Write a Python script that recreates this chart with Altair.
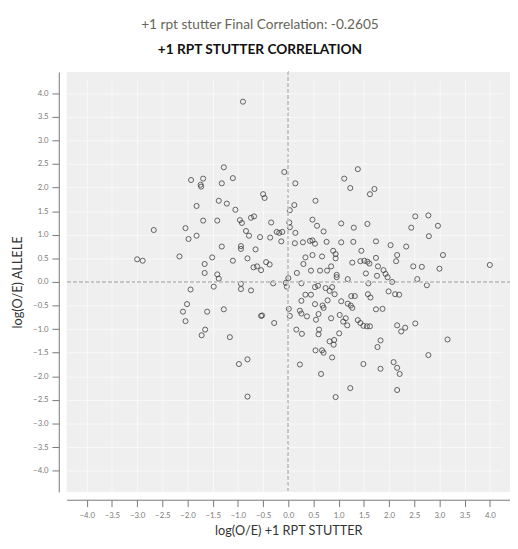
import altair as alt
import pandas as pd

# log(O/E) +1 rpt stutter (x) and log(O/E) allele (y)
x_vals = [
    -0.90, -1.28, -1.93, -1.69, -1.74, -1.73, -1.32, -1.10, -0.08, -0.50,
    -0.47, -1.82, -1.38, -1.22, -1.05, 0.03, -1.69, -1.41, -0.96, -0.92,
    -0.74, -0.68, -0.34, -2.67, -2.04, -1.98, -1.82, -0.84, -0.78, -0.56,
    -0.36, -0.23, -0.18, -0.12, -0.14, 0.02, 0.03, -1.32, -0.94, -0.94,
    -0.65, -3.00, -2.89, -2.16, -1.51, -1.66, -1.10, -0.81, -0.69, -0.62,
    -0.54, -0.44, -0.37, -1.66, -1.41, -1.38, -1.48, -1.94, -0.94, -0.94,
    -0.74, -0.30, -0.05, -0.03, 0.00, -2.01, -2.09, -2.04, -1.61, -1.28,
    -0.54, -0.52, -0.28, 0.01, 0.03, -1.65, -1.72, -1.16, -0.81, -0.98,
    -0.81,
    0.14, 1.38, 1.11, 1.23, 1.71, 1.62, 0.54, 0.12, 0.14, 0.48,
    0.57, 0.70, 1.05, 1.30, 1.57, 2.52, 2.78, 2.44, 2.97, 2.79,
    0.13, 0.29, 0.43, 0.48, 0.53, 0.76, 1.05, 1.29, 1.74, 2.03,
    2.34, 3.07, 4.00, 0.34, 0.30, 0.48, 0.67, 0.89, 0.94, 0.94,
    1.45, 1.27, 1.43, 1.51, 1.57, 1.61, 1.74, 2.16, 2.14, 1.78,
    2.48, 2.65, 3.00, 0.17, 0.45, 0.63, 0.77, 0.85, 0.96, 0.96,
    1.18, 1.54, 1.76, 1.89, 1.93, 1.97, 2.06, 1.59, 2.56, 2.75,
    0.26, 0.53, 0.59, 0.74, 0.87, 0.34, 0.45, 0.82, 0.92, 1.25,
    1.32, 1.58, 1.63, 1.99, 2.12, 2.20, 0.26, 0.53, 0.68, 0.70,
    0.78, 1.05, 1.18, 1.24, 1.27, 1.74, 1.87, 0.23, 0.26, 0.37,
    0.55, 0.60, 0.85, 1.02, 1.09, 1.14, 1.17, 1.38, 1.43, 1.49,
    1.56, 1.62, 2.16, 2.24, 2.32, 2.52, 3.16, 0.16, 0.27, 0.61,
    0.60, 1.01, 0.82, 0.91, 0.90, 0.67, 0.70, 0.54, 0.87, 1.83,
    1.77, 0.23, 0.65, 1.49, 1.83, 2.09, 2.16, 2.21, 2.78, 1.23,
    0.94, 2.16,
]
y_vals = [
    3.82, 2.43, 2.16, 2.19, 2.06, 2.02, 2.09, 2.20, 2.33, 1.86,
    1.78, 1.61, 1.72, 1.66, 1.53, 1.52, 1.30, 1.30, 1.31, 1.25,
    1.36, 1.39, 1.26, 1.10, 1.14, 0.91, 0.98, 1.08, 0.98, 0.95,
    0.94, 1.06, 1.04, 1.06, 0.86, 1.26, 1.16, 0.75, 0.76, 0.70,
    0.69, 0.48, 0.45, 0.54, 0.52, 0.38, 0.45, 0.50, 0.31, 0.33,
    0.25, 0.42, 0.37, 0.19, 0.16, 0.07, -0.10, -0.16, -0.04, -0.15,
    -0.18, -0.03, -0.02, -0.10, 0.08, -0.47, -0.63, -0.83, -0.63, -0.58,
    -0.72, -0.71, -0.87, -0.57, -0.72, -1.01, -1.13, -1.17, -1.64, -1.74,
    -2.43,
    2.09, 2.39, 2.19, 1.99, 1.97, 1.86, 1.72, 1.63, 1.04, 1.32,
    1.19, 1.07, 1.24, 1.15, 1.23, 1.39, 1.41, 1.15, 1.19, 0.97,
    0.82, 0.84, 0.87, 0.88, 0.81, 0.85, 0.84, 0.85, 0.86, 0.78,
    0.75, 0.57, 0.36, 0.52, 0.38, 0.57, 0.54, 0.66, 0.59, 0.50,
    0.66, 0.41, 0.44, 0.45, 0.43, 0.39, 0.51, 0.57, 0.44, 0.33,
    0.33, 0.32, 0.28, 0.19, 0.24, 0.24, 0.24, 0.33, 0.15, 0.10,
    0.06, 0.18, 0.13, 0.25, 0.17, 0.10, 0.00, -0.03, 0.06, -0.07,
    -0.03, -0.11, -0.08, -0.13, -0.11, -0.27, -0.27, -0.19, -0.26, -0.30,
    -0.30, -0.26, -0.33, -0.20, -0.26, -0.27, -0.40, -0.47, -0.50, -0.55,
    -0.39, -0.41, -0.46, -0.50, -0.55, -0.58, -0.57, -0.61, -0.67, -0.73,
    -0.80, -0.68, -0.77, -0.70, -0.84, -0.77, -0.92, -0.81, -0.87, -0.93,
    -0.94, -0.94, -0.92, -1.05, -0.97, -0.88, -1.22, -1.01, -1.10, -1.01,
    -1.11, -1.09, -1.26, -1.23, -1.33, -1.45, -1.50, -1.45, -1.60, -1.24,
    -1.38, -1.75, -1.95, -1.74, -1.84, -1.70, -1.82, -1.95, -1.55, -2.25,
    -2.44, -2.29,
]

tick_values = [-4.0, -3.5, -3.0, -2.5, -2.0, -1.5, -1.0, -0.5, 0.0,
               0.5, 1.0, 1.5, 2.0, 2.5, 3.0, 3.5, 4.0]

title_text = "+1 rpt stutter Final Correlation: -0.2605"
subtitle_text = "+1 RPT STUTTER CORRELATION"
x_title = "log(O/E) +1 RPT STUTTER"
y_title = "log(O/E) ALLELE"

df = pd.DataFrame({"x": x_vals, "y": y_vals})

xs = alt.Scale(domain=[-4.4, 4.4], nice=False, zero=False)
ys = alt.Scale(domain=[-4.45, 4.45], nice=False, zero=False)

x_axis = alt.Axis(values=tick_values, format=".1f", labelOverlap=False,
                  labelPadding=5, titlePadding=6, title=x_title)
y_axis = alt.Axis(values=tick_values, format=".1f", labelOverlap=False,
                  labelPadding=4, titlePadding=8, title=y_title)

points = alt.Chart(df).mark_point(
    filled=False, shape="circle", size=27, color="#404040", strokeWidth=0.9, opacity=0.9
).encode(
    x=alt.X("x:Q", scale=xs, axis=x_axis),
    y=alt.Y("y:Q", scale=ys, axis=y_axis),
)

vline = alt.Chart(df).mark_rule(color="#c6c6c6", strokeDash=[3, 3], strokeWidth=1).encode(
    x=alt.X(datum=0.0, scale=xs, axis=x_axis)
)
hline = alt.Chart(df).mark_rule(color="#c6c6c6", strokeDash=[3, 3], strokeWidth=1).encode(
    y=alt.Y(datum=0.0, scale=ys, axis=y_axis)
)

chart = alt.layer(points, vline, hline).properties(
    width=454,
    height=430,
    autosize=alt.AutoSizeParams(type="none"),
    padding={"left": 60, "top": 59, "right": 0, "bottom": 54},
    title=alt.TitleParams(
        text=title_text,
        subtitle=subtitle_text,
        font="Lato",
        fontSize=14,
        fontWeight="normal",
        color="#666659",
        subtitleFont="Lato",
        subtitleFontSize=14,
        subtitleFontWeight="bold",
        subtitleColor="#111111",
        subtitlePadding=12,
        anchor="middle",
        dx=-29,
        offset=15,
    ),
).configure_axis(
    labelFont="Lato",
    labelFontSize=8,
    labelColor="#7a7a7a",
    labelOverlap=False,
    tickColor="#777777",
    tickSize=7,
    domainColor="#777777",
    offset=8,
    grid=True,
    gridColor="#ffffff",
    gridOpacity=0.6,
    gridWidth=1,
    titleFont="Lato",
    titleFontSize=13,
    titleFontWeight="normal",
    titleColor="#333333",
).configure_view(
    fill="#efefef",
    stroke=None,
)

chart.save("out.html", embed_options={"renderer": "svg", "actions": False})
